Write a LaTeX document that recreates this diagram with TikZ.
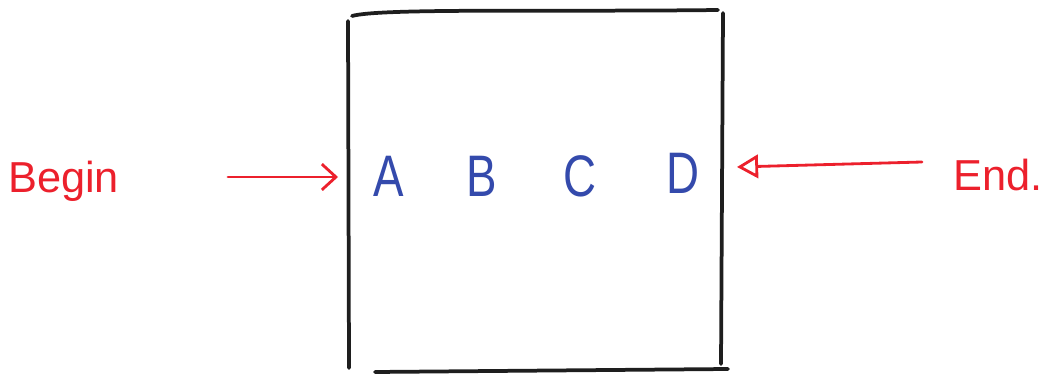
\documentclass[tikz,border=0pt]{standalone}
\usepackage{fontspec}
\setmainfont{Liberation Sans}
\usetikzlibrary{arrows.meta}
\definecolor{penred}{RGB}{236,32,44}
\definecolor{penblue}{RGB}{52,74,172}
\definecolor{penblack}{RGB}{30,30,30}
\tikzset{
  boxline/.style={draw=penblack, line width=3.2pt, line cap=round},
  redtext/.style={text=penred, font=\fontsize{37}{40}\selectfont, inner sep=0pt, anchor=base west},
  letter/.style={text=penblue, font=\fontsize{50}{56}\selectfont, xscale=0.78, inner sep=0pt, anchor=base},
  redarrow/.style={draw=penred, line width=2.4pt, line cap=round}
}
\begin{document}
\begin{tikzpicture}[x=0.03cm, y=-0.03cm]
  \useasboundingbox (0,0) rectangle (1046,375);
  % box
  \coordinate (tl) at (348,21);
  \coordinate (tlt) at (352,16);
  \coordinate (trt) at (718,10);
  \coordinate (tr) at (723,13);
  \coordinate (bl) at (349,368);
  \coordinate (blb) at (375,372);
  \coordinate (brb) at (728,369);
  \coordinate (br) at (721,364);
  \draw[boxline] (tl) -- (bl);
  \draw[boxline] (tlt) .. controls (380,8) and (550,12) .. (trt);
  \draw[boxline] (tr) -- (br);
  \draw[boxline] (blb) -- (brb);
  % letters
  \node[letter] (A) at (389,197) {A};
  \node[letter] (B) at (482,197) {B};
  \node[letter] (C) at (580,197) {C};
  \node[letter] (D) at (683,194) {D};
  % labels
  \node[redtext] (begin) at (8,193) {Begin};
  \node[redtext] (end) at (953,191) {End.};
  % arrows
  \coordinate (bs) at (228,177);
  \coordinate (be) at (338,177);
  \coordinate (es) at (922,162);
  \coordinate (ee) at (737,167);
  \draw[redarrow, -{Straight Barb[length=12pt, width=22pt, line width=2.4pt]}] (bs) -- (be);
  \draw[redarrow, -{Triangle[open, length=18pt, width=20pt, line width=2.4pt]}] (es) -- (ee);
\end{tikzpicture}
\end{document}
